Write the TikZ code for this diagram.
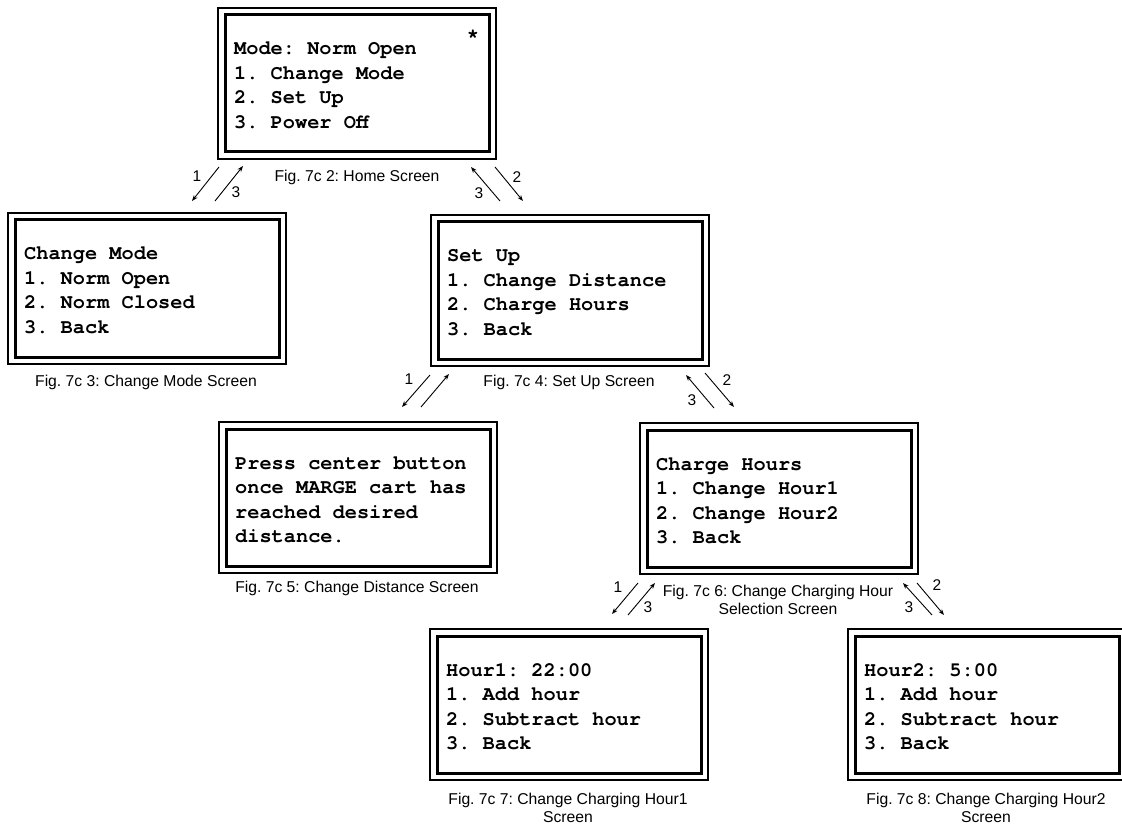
\documentclass[tikz,border=0pt]{standalone}
\usepackage{fontspec}
\setmainfont{Liberation Sans}
\newfontfamily\scrfont{texgyrecursor}[Extension=.otf, UprightFont=*-regular, BoldFont=*-bold]
\usetikzlibrary{arrows.meta,calc}
\frenchspacing
\newcommand\screenbox[4]{%
  \node[scrbox] (#1) at (#2,#3) {};
  \draw[line width=3pt] ([xshift=8pt,yshift=-8pt]#1.north west) rectangle ([xshift=-8pt,yshift=8pt]#1.south east);
  \foreach \t [count=\i] in {#4} \node[scrline] (#1-\i) at ($(#1.north west)+(17,48+24.5*\i-24.5)$) {\t};
}
\begin{document}
\begin{tikzpicture}[x=1pt,y=-1pt,
  scrbox/.style={draw, line width=2pt, fill=white, minimum width=278pt, minimum height=151pt, anchor=north west, inner sep=0pt},
  scrline/.style={anchor=base west, inner sep=0pt, font=\scrfont\bfseries\fontsize{20.3}{24.5}\selectfont},
  figcap/.style={font=\fontsize{15.7}{18}\selectfont, align=center, inner sep=0pt},
  lbl/.style={font=\fontsize{15.5}{17}\selectfont, inner sep=0pt},
  arr/.style={line width=0.9pt, -{Stealth[length=6pt,width=4.5pt]}}]
\clip (0,0) rectangle (1122,826);
\fill[white] (0,0) rectangle (1122,826);

\screenbox{home}{217}{7}{Mode: Norm Open,1. Change Mode,2. Set Up,3. Power Off}
\node[scrline, anchor=center] (star) at (473,36) {*};
\screenbox{cmode}{7}{212}{Change Mode,1. Norm Open,2. Norm Closed,3. Back}
\screenbox{setup}{430}{214}{Set Up,1. Change Distance,2. Charge Hours,3. Back}
\screenbox{dist}{218}{421}{Press center button,once MARGE cart has,reached desired,distance.}
\screenbox{charge}{639}{422}{Charge Hours,1. Change Hour1,2. Change Hour2,3. Back}
\screenbox{hourA}{429}{628}{Hour1: 22:00,1. Add hour,2. Subtract hour,3. Back}
\screenbox{hourB}{847}{628}{Hour2: 5:00,1. Add hour,2. Subtract hour,3. Back}

% captions
\node[figcap] (c2) at (357,177) {Fig. 7c 2: Home Screen};
\node[figcap] (c3) at (146,382) {Fig. 7c 3: Change Mode Screen};
\node[figcap] (c4) at (569,382) {Fig. 7c 4: Set Up Screen};
\node[figcap] (c5) at (357,588) {Fig. 7c 5: Change Distance Screen};
\node[figcap] (c6) at (778,600) {Fig. 7c 6: Change Charging Hour\\Selection Screen};
\node[figcap] (c7) at (568,808) {Fig. 7c 7: Change Charging Hour1\\Screen};
\node[figcap] (c8) at (986,808) {Fig. 7c 8: Change Charging Hour2\\Screen};

% connector end points
\coordinate (hc1s) at (219,167); \coordinate (hc1e) at (192,201);
\coordinate (hc3s) at (215,201); \coordinate (hc3e) at (243,166);
\coordinate (hs3s) at (500,201); \coordinate (hs3e) at (471,167);
\coordinate (hs2s) at (495,167); \coordinate (hs2e) at (523,201);
\coordinate (sd1s) at (430,375); \coordinate (sd1e) at (402,407);
\coordinate (sd3s) at (421,407); \coordinate (sd3e) at (449,374);
\coordinate (sc2s) at (705,373); \coordinate (sc2e) at (734,407);
\coordinate (sc3s) at (714,408); \coordinate (sc3e) at (686,375);
\coordinate (ca1s) at (638,583); \coordinate (ca1e) at (612,614);
\coordinate (ca3s) at (628,615); \coordinate (ca3e) at (655,583);
\coordinate (cb3s) at (932,615); \coordinate (cb3e) at (903,583);
\coordinate (cb2s) at (917,583); \coordinate (cb2e) at (944,615);

\draw[arr] (hc1s) -- (hc1e);
\draw[arr] (hc3s) -- (hc3e);
\draw[arr] (hs3s) -- (hs3e);
\draw[arr] (hs2s) -- (hs2e);
\draw[arr] (sd1s) -- (sd1e);
\draw[arr] (sd3s) -- (sd3e);
\draw[arr] (sc2s) -- (sc2e);
\draw[arr] (sc3s) -- (sc3e);
\draw[arr] (ca1s) -- (ca1e);
\draw[arr] (ca3s) -- (ca3e);
\draw[arr] (cb3s) -- (cb3e);
\draw[arr] (cb2s) -- (cb2e);

% labels
\node[lbl] (l1) at (197,176) {1};
\node[lbl] (l2) at (236,192) {3};
\node[lbl] (l3) at (479,193) {3};
\node[lbl] (l4) at (517,177) {2};
\node[lbl] (l5) at (409,379) {1};
\node[lbl] (l6) at (727,380) {2};
\node[lbl] (l7) at (692,400) {3};
\node[lbl] (l8) at (618,587) {1};
\node[lbl] (l9) at (648,607) {3};
\node[lbl] (l10) at (909,607) {3};
\node[lbl] (l11) at (937,585) {2};
\end{tikzpicture}
\end{document}
